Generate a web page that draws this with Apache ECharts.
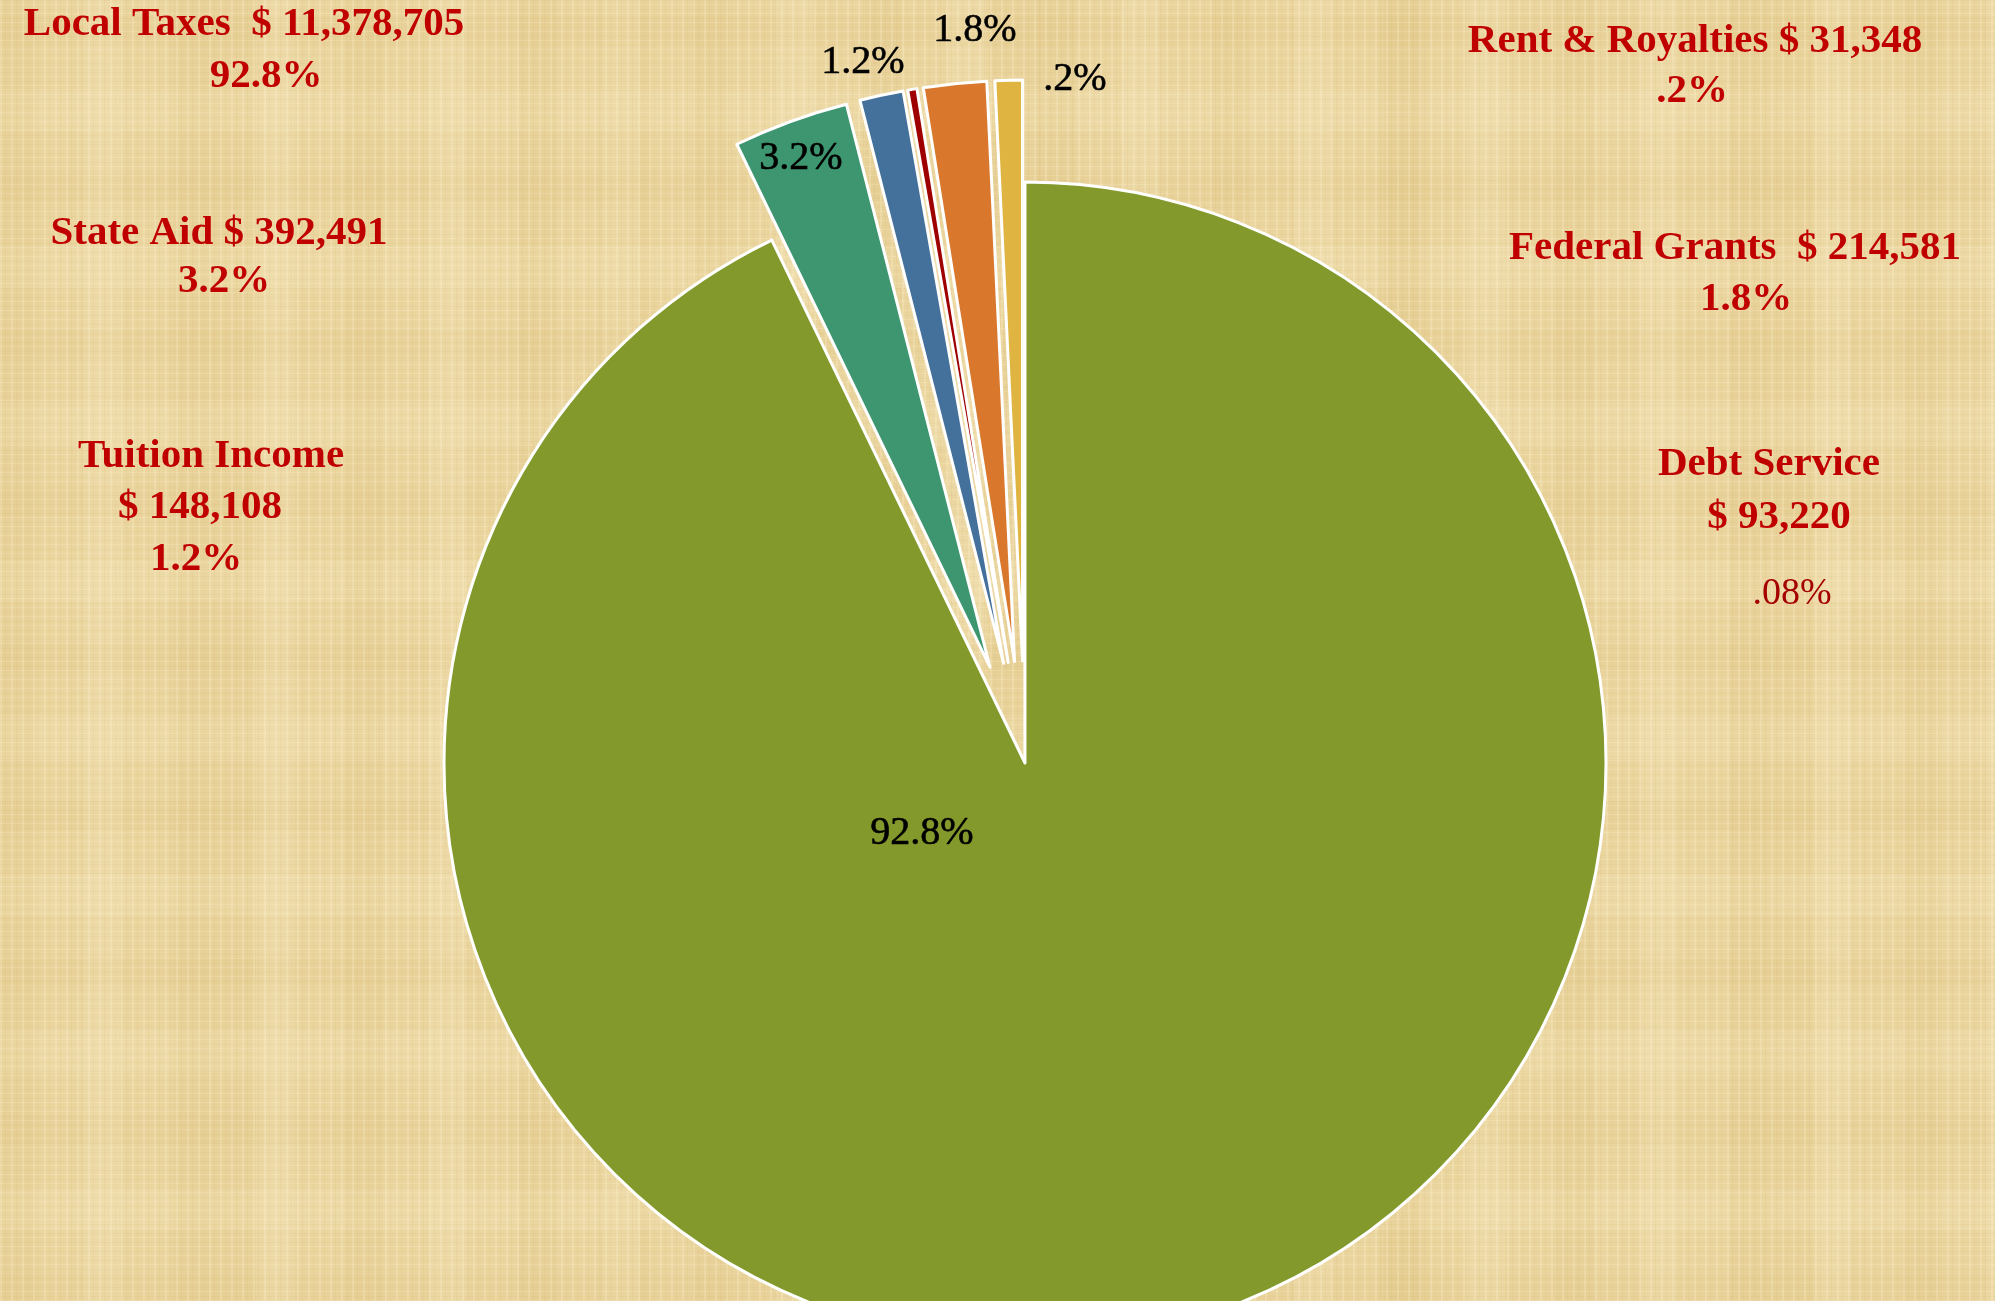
<!DOCTYPE html>
<html>
<head>
<meta charset="utf-8">
<script src="https://cdn.jsdelivr.net/npm/echarts@6/dist/echarts.min.js"></script>
<style>
html, body { margin:0; padding:0; width:1995px; height:1301px; overflow:hidden; }
body {
  background-color:#ead59f;
  background-image:
    repeating-linear-gradient(90deg, rgba(255,246,215,0.22) 0 2px, transparent 2px 5px, rgba(185,145,60,0.07) 5px 6px, transparent 6px 11px),
    repeating-linear-gradient(0deg, rgba(255,246,215,0.18) 0 1px, transparent 1px 4px, rgba(185,145,60,0.06) 4px 5px, transparent 5px 9px),
    repeating-linear-gradient(90deg, rgba(210,175,95,0.09) 0 37px, transparent 37px 83px, rgba(255,245,215,0.12) 83px 121px, transparent 121px 173px),
    repeating-linear-gradient(0deg, rgba(210,175,95,0.08) 0 29px, transparent 29px 71px, rgba(255,245,215,0.12) 71px 113px, transparent 113px 157px),
    repeating-linear-gradient(90deg, transparent 0 211px, rgba(215,180,100,0.08) 211px 263px, transparent 263px 389px);
}
#chart { width:1995px; height:1301px; }
</style>
</head>
<body>
<div id="chart"></div>
<script>
// ---- data ----
const categories = ['Local Taxes', 'State Aid', 'Tuition Income', 'Rent & Royalties', 'Federal Grants', 'Debt Service'];
const amounts = [11378705, 392491, 148108, 31348, 214581, 93220];
const sliceLabels = ['92.8%', '3.2%', '1.2%', '.2%', '1.8%', ''];
const notePercents = ['92.8%', '3.2%', '1.2%', '.2%', '1.8%', '.08%'];
const exploded = [false, true, true, true, true, true];
const colors = ['#83992b', '#3d9670', '#44709c', '#9e0000', '#d9782d', '#e0b440'];

// ---- layout (positions only) ----
const slicePos = [[922, 833], [801, 158], [863, 62], [1075, 79], [975, 30], [0, 0]];
function money(v) { return '$ ' + v.toLocaleString('en-US'); }
const notes = [
  { lines: [categories[0] + '  ' + money(amounts[0]), notePercents[0]], pos: [[244, 24], [266, 76]] },
  { lines: [categories[1] + ' ' + money(amounts[1]), notePercents[1]], pos: [[219, 233], [224, 281]] },
  { lines: [categories[2], money(amounts[2]), notePercents[2]], pos: [[211, 456], [200, 507], [196, 559]] },
  { lines: [categories[3] + ' ' + money(amounts[3]), notePercents[3]], pos: [[1695, 41], [1692, 91]] },
  { lines: [categories[4] + '  ' + money(amounts[4]), notePercents[4]], pos: [[1735, 248], [1746, 299]] },
  { lines: [categories[5], money(amounts[5]), notePercents[5]], pos: [[1769, 464], [1779, 517], [1792, 594]], lastRegular: true }
];

const FONT = '"Liberation Serif", "DejaVu Serif", serif';
const graphics = [];
notes.forEach(n => {
  n.lines.forEach((t, i) => {
    const regular = n.lastRegular && i === n.lines.length - 1;
    graphics.push({
      type: 'text', x: n.pos[i][0], y: n.pos[i][1], silent: true, z: 10,
      style: {
        text: t, fill: regular ? '#a40000' : '#c00000',
        font: (regular ? 'normal 38px ' : 'bold 41px ') + FONT,
        align: 'center', verticalAlign: 'middle'
      }
    });
  });
});
// slice percentage labels
sliceLabels.forEach((t, i) => {
  if (!t) return;
  graphics.push({
    type: 'text', x: slicePos[i][0], y: slicePos[i][1], silent: true, z: 10,
    style: { text: t, fill: '#000', font: 'normal 40px ' + FONT, align: 'center', verticalAlign: 'middle',
             stroke: '#000', lineWidth: 0.6 }
  });
});

const chart = echarts.init(document.getElementById('chart'), null, { renderer: 'canvas' });
chart.setOption({
  animation: false,
  backgroundColor: 'transparent',
  graphic: graphics,
  series: [{
    type: 'pie',
    center: [1025, 763],
    radius: [0, 581],
    startAngle: 90,
    clockwise: true,
    selectedMode: 'multiple',
    selectedOffset: 102,
    avoidLabelOverlap: false,
    emphasis: { disabled: true },
    itemStyle: { borderColor: '#ffffff', borderWidth: 3 },
    label: { show: false },
    labelLine: { show: false },
    data: categories.map((c, i) => ({
      name: c, value: amounts[i], selected: exploded[i],
      itemStyle: { color: colors[i] }
    }))
  }]
});
</script>
</body>
</html>
